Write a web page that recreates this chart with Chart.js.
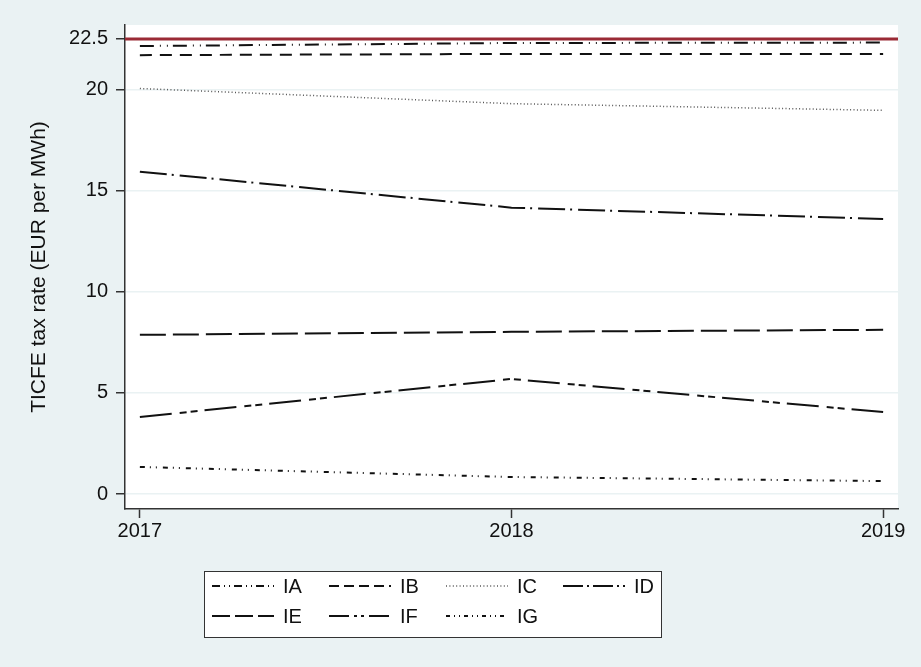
<!DOCTYPE html>
<html>
<head>
<meta charset="utf-8">
<script src="https://cdn.jsdelivr.net/npm/chart.js@4"></script>
<style>
  html, body { margin: 0; padding: 0; background: #eaf2f3; }
  #wrap { width: 921px; height: 667px; }
</style>
</head>
<body>
<div id="wrap"><canvas id="taxChart" width="921" height="667"></canvas></div>
<script>
// ------------------------------
// Data
// ------------------------------
const years = [2017, 2018, 2019];
const labels = ["IA", "IB", "IC", "ID", "IE", "IF", "IG"];
const seriesIA = [22.15, 22.3, 22.32];
const seriesIB = [21.7, 21.76, 21.76];
const seriesIC = [20.05, 19.3, 18.97];
const seriesID = [15.94, 14.16, 13.6];
const seriesIE = [7.87, 8.02, 8.12];
const seriesIF = [3.81, 5.69, 4.05];
const seriesIG = [1.34, 0.84, 0.64];
const yTicks = [0, 5, 10, 15, 20, 22.5];
const capValue = 22.5;

const allSeries = [seriesIA, seriesIB, seriesIC, seriesID, seriesIE, seriesIF, seriesIG];
const dashes = [
    [14, 6, 1, 6, 1, 5],
    [12, 8],
    [1, 2.4],
    [27, 5, 2, 6],
    [26, 7],
    [32, 8, 7, 4, 7, 7],
    [5, 5, 1, 5, 1, 6]
];
// shorter patterns for the legend samples
const legendDashes = [
    [8, 4, 1, 4, 1, 4],
    [10, 5],
    [1, 2.4],
    [20, 4, 2, 4],
    [18, 5],
    [20, 5, 3, 4, 3, 5],
    [4, 4, 1, 4, 1, 4]
];

const FONT = "'Liberation Sans', Arial, Helvetica, sans-serif";

const datasets = labels.map((name, i) => ({
    label: name,
    data: years.map((yr, j) => ({ x: yr, y: allSeries[i][j] })),
    borderColor: i === 2 ? "#555" : "#111",
    borderWidth: i === 2 ? 1.5 : 2,
    borderDash: dashes[i],
    borderCapStyle: "butt",
    pointRadius: 0,
    tension: 0,
    fill: false
}));

// ------------------------------
// Plugins: white plot region, cap line, boxed legend
// ------------------------------
const plotBackground = {
    id: "plotBackground",
    beforeDraw(chart) {
        const { ctx, chartArea: a } = chart;
        ctx.save();
        ctx.fillStyle = "#ffffff";
        ctx.fillRect(a.left, a.top, a.right - a.left, a.bottom - a.top);
        ctx.restore();
    }
};

const capLine = {
    id: "capLine",
    afterDatasetsDraw(chart) {
        const { ctx, chartArea: a } = chart;
        const y = chart.scales.y.getPixelForValue(capValue);
        ctx.save();
        ctx.strokeStyle = "#9a2a35";
        ctx.lineWidth = 3;
        ctx.beginPath();
        ctx.moveTo(a.left, y);
        ctx.lineTo(a.right, y);
        ctx.stroke();
        ctx.restore();
    }
};

const boxLegend = {
    id: "boxLegend",
    afterDraw(chart) {
        const ctx = chart.ctx;
        const box = { x: 204.5, y: 571.5, w: 457, h: 66 };
        ctx.save();
        ctx.fillStyle = "#ffffff";
        ctx.fillRect(box.x, box.y, box.w, box.h);
        ctx.strokeStyle = "#333";
        ctx.lineWidth = 1;
        ctx.strokeRect(box.x, box.y, box.w, box.h);

        ctx.font = "20px " + FONT;
        ctx.textBaseline = "middle";
        ctx.fillStyle = "#111";
        chart.data.datasets.forEach((ds, i) => {
            const col = i % 4;
            const row = Math.floor(i / 4);
            const x0 = 212 + col * 117;
            const yc = 586 + row * 30;
            ctx.save();
            ctx.strokeStyle = ds.borderColor;
            ctx.lineWidth = ds.borderWidth;
            ctx.setLineDash(legendDashes[i]);
            ctx.beginPath();
            ctx.moveTo(x0, yc);
            ctx.lineTo(x0 + 62, yc);
            ctx.stroke();
            ctx.restore();
            ctx.fillText(ds.label, x0 + 71, yc + 1);
        });
        ctx.restore();
    }
};

// ------------------------------
// Line Chart
// ------------------------------
new Chart(document.getElementById("taxChart"), {
    type: "line",
    data: { datasets: datasets },
    options: {
        responsive: false,
        animation: false,
        layout: { padding: { left: 0, top: 25, right: 23, bottom: 0 } },
        plugins: {
            legend: { display: false },
            tooltip: { enabled: false }
        },
        scales: {
            x: {
                type: "linear",
                min: 2016.96,
                max: 2019.04,
                afterBuildTicks(scale) {
                    scale.ticks = years.map(v => ({ value: v }));
                },
                afterFit(scale) { scale.height = 158; },
                grid: {
                    drawOnChartArea: false,
                    drawTicks: true,
                    tickLength: 9,
                    tickColor: "#333",
                    tickWidth: 1.5
                },
                border: { color: "#333", width: 1.5 },
                ticks: {
                    color: "#111",
                    padding: 1,
                    maxRotation: 0,
                    font: { family: FONT, size: 20 },
                    callback: v => String(v)
                }
            },
            y: {
                type: "linear",
                min: -0.74,
                max: 23.19,
                afterBuildTicks(scale) {
                    scale.ticks = yTicks.map(v => ({ value: v }));
                },
                afterFit(scale) { scale.width = 125; },
                grid: {
                    color: "#eaf2f3",
                    lineWidth: 1.5,
                    drawTicks: true,
                    tickLength: 9,
                    tickColor: "#333",
                    tickWidth: 1.5
                },
                border: { color: "#333", width: 1.5 },
                ticks: {
                    color: "#111",
                    padding: 8,
                    font: { family: FONT, size: 20 },
                    callback: v => String(v)
                },
                title: {
                    display: true,
                    text: "TICFE tax rate (EUR per MWh)",
                    color: "#111",
                    font: { family: FONT, size: 21 },
                    padding: { top: 27, bottom: 0 }
                }
            }
        }
    },
    plugins: [plotBackground, capLine, boxLegend]
});
</script>
</body>
</html>
